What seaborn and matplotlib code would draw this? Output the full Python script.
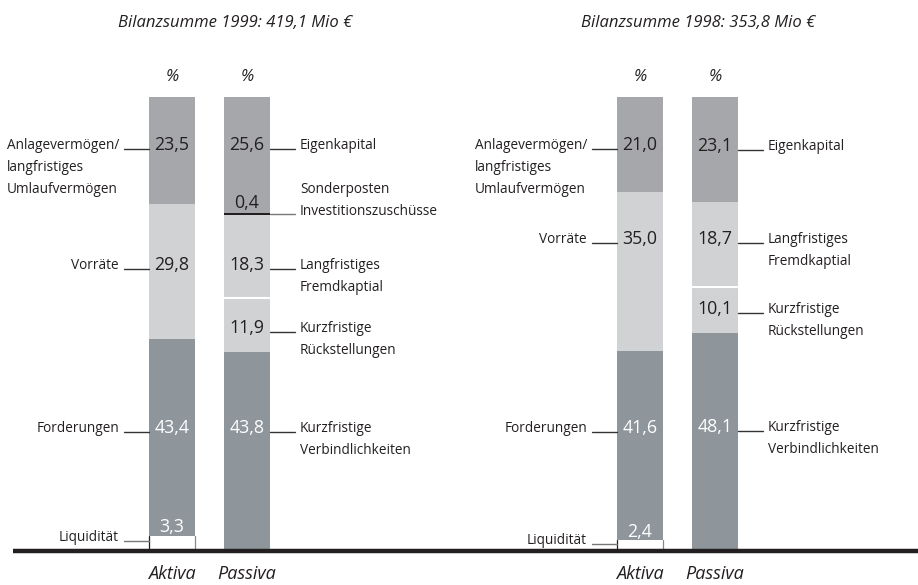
import numpy as np
import pandas as pd
import matplotlib
matplotlib.use("Agg")
import matplotlib.pyplot as plt
import seaborn as sns

# data, Anteile in % (von unten nach oben gestapelt)
sides = ["Aktiva", "Passiva"]

aktiva_labels = ["Liquidität", "Forderungen", "Vorräte", "Anlagevermögen/\nlangfristiges\nUmlaufvermögen"]
aktiva_1999 = [3.3, 43.4, 29.8, 23.5]
aktiva_1998 = [2.4, 41.6, 35.0, 21.0]

passiva_labels_1999 = ["Kurzfristige\nVerbindlichkeiten", "Kurzfristige\nRückstellungen",
                       "Langfristiges\nFremdkaptial", "Sonderposten\nInvestitionszuschüsse", "Eigenkapital"]
passiva_1999 = [43.8, 11.9, 18.3, 0.4, 25.6]
passiva_labels_1998 = ["Kurzfristige\nVerbindlichkeiten", "Kurzfristige\nRückstellungen",
                       "Langfristiges\nFremdkaptial", "Eigenkapital"]
passiva_1998 = [48.1, 10.1, 18.7, 23.1]

titles = ["Bilanzsumme 1999: 419,1 Mio €", "Bilanzsumme 1998: 353,8 Mio €"]

# label heights (leader line position, % from bottom)
aktiva_label_y_1999 = [2.2, 26.2, 62.1, 88.5]
aktiva_label_y_1998 = [1.5, 26.2, 67.8, 88.5]
passiva_label_y_1999 = [26.2, 48.2, 62.1, 74.2, 88.5]
passiva_label_y_1998 = [26.4, 52.4, 67.8, 88.3]
value_y_liq = [5.3, 4.2]

# styles
c_top = "#a6a7ab"
c_light = "#d1d2d4"
c_dark = "#8e969c"
c_text = "#231f20"
aktiva_colors = ["white", c_dark, c_light, c_top]
passiva_colors_1999 = [c_dark, c_light, c_light, c_text, c_top]
passiva_colors_1998 = [c_dark, c_light, c_light, c_top]

sns.set_style("white")
plt.rcParams["font.family"] = ["Open Sans", "DejaVu Sans"]

fig = plt.figure(figsize=(9.18, 5.85), dpi=100)
W, H = 918.0, 585.0
px_per_unit = 4.54
base_px = 551.0
bar_w = 46 / 75.0

lab_fs = 9.8
val_fs = 12.8
lab_ls = 1.62
top_off = 2.45     # top of first label line above the leader line
line_step = 4.6    # one label line, in % units

panels = [
    dict(left=0, right=459, center=172, title_x=0.84,
         akt=aktiva_1999, akt_y=aktiva_label_y_1999,
         pas=passiva_1999, pas_lab=passiva_labels_1999, pas_y=passiva_label_y_1999,
         pas_col=passiva_colors_1999, title=titles[0], liq_y=value_y_liq[0], line_x0=13),
    dict(left=459, right=918, center=640, title_x=0.77,
         akt=aktiva_1998, akt_y=aktiva_label_y_1998,
         pas=passiva_1998, pas_lab=passiva_labels_1998, pas_y=passiva_label_y_1998,
         pas_col=passiva_colors_1998, title=titles[1], liq_y=value_y_liq[1], line_x0=459),
]

for p in panels:
    ax = fig.add_axes([p["left"] / W, 0, (p["right"] - p["left"]) / W, 1])

    for side, vals, cols in [("Aktiva", p["akt"], aktiva_colors), ("Passiva", p["pas"], p["pas_col"])]:
        bottoms = np.concatenate([[0], np.cumsum(vals)[:-1]])
        for v, b, c in zip(vals, bottoms, cols):
            df = pd.DataFrame({"side": [side], "value": [v]})
            sns.barplot(data=df, x="side", y="value", order=sides, bottom=b,
                        color=c, saturation=1, width=bar_w, linewidth=0, ax=ax)
    ax.set_xlim(-(p["center"] - p["left"]) / 75.0, (p["right"] - p["center"]) / 75.0)
    ax.set_ylim(-(H - base_px) / px_per_unit, base_px / px_per_unit)
    ax.axis("off")

    hw = bar_w / 2
    lead = 25 / 75.0
    gap = 5 / 75.0

    # Aktiva: Liquidität box edges
    liq = p["akt"][0]
    ax.plot([-hw, -hw], [0, liq], color=c_text, lw=0.9)
    ax.plot([hw, hw], [0, liq], color="#888888", lw=0.9)

    # Aktiva values and labels
    for i, (v, lab, ly) in enumerate(zip(p["akt"], aktiva_labels, p["akt_y"])):
        txt = f"{v:.1f}".replace(".", ",")
        if i == 0:
            ax.text(0, p["liq_y"], txt, ha="center", va="center", color="white", fontsize=val_fs)
        else:
            col = "white" if aktiva_colors[i] == c_dark else c_text
            ax.text(0, ly + 0.9, txt, ha="center", va="center", color=col, fontsize=val_fs)
        lc = "#777777" if i == 0 else "#333333"
        ax.plot([-hw - lead, -hw], [ly, ly], color=lc, lw=1.0)
        ax.text(-hw - lead - gap, ly + top_off, lab, ha="right", va="top",
                multialignment="left", color=c_text, fontsize=lab_fs, linespacing=lab_ls)

    # Passiva values and labels
    p_bot = np.concatenate([[0], np.cumsum(p["pas"])[:-1]])
    for i, (v, lab, ly, c) in enumerate(zip(p["pas"], p["pas_lab"], p["pas_y"], p["pas_col"])):
        txt = f"{v:.1f}".replace(".", ",")
        lc = "#333333"
        ty = ly + top_off
        if v < 1:
            ax.text(1, p_bot[i] + v + 2.3, txt, ha="center", va="center", color=c_text, fontsize=val_fs)
            ty = ly + top_off + line_step
            lc = "#777777"
        else:
            col = "white" if c == c_dark else c_text
            ax.text(1, ly + 0.9, txt, ha="center", va="center", color=col, fontsize=val_fs)
        ax.text(1 + hw + lead + gap, ty, lab, ha="left", va="top",
                color=c_text, fontsize=lab_fs, linespacing=lab_ls)
        ax.plot([1 + hw, 1 + hw + lead], [ly, ly], color=lc, lw=1.0)

    # white separator between the two light segments
    for i in range(1, len(p["pas"])):
        if p["pas_col"][i] == c_light and p["pas_col"][i - 1] == c_light:
            ax.plot([1 - hw, 1 + hw], [p_bot[i], p_bot[i]], color="white", lw=1.5)

    # percent signs, axis labels, title
    for k, s in enumerate(sides):
        ax.text(k, 104.4, "%", ha="center", va="center", style="italic", color=c_text, fontsize=12)
        ax.text(k, -5.0, s, ha="center", va="center", style="italic", color=c_text, fontsize=13)
    ax.text(p["title_x"], 116.4, p["title"], ha="center", va="center", style="italic",
            color=c_text, fontsize=12)

    # baseline
    x0 = -(p["center"] - p["line_x0"]) / 75.0
    ax.plot([x0, (p["right"] - p["center"]) / 75.0], [0, 0], color=c_text, lw=3.2,
            solid_capstyle="butt", zorder=5)

fig.savefig("out.png", dpi=100)
